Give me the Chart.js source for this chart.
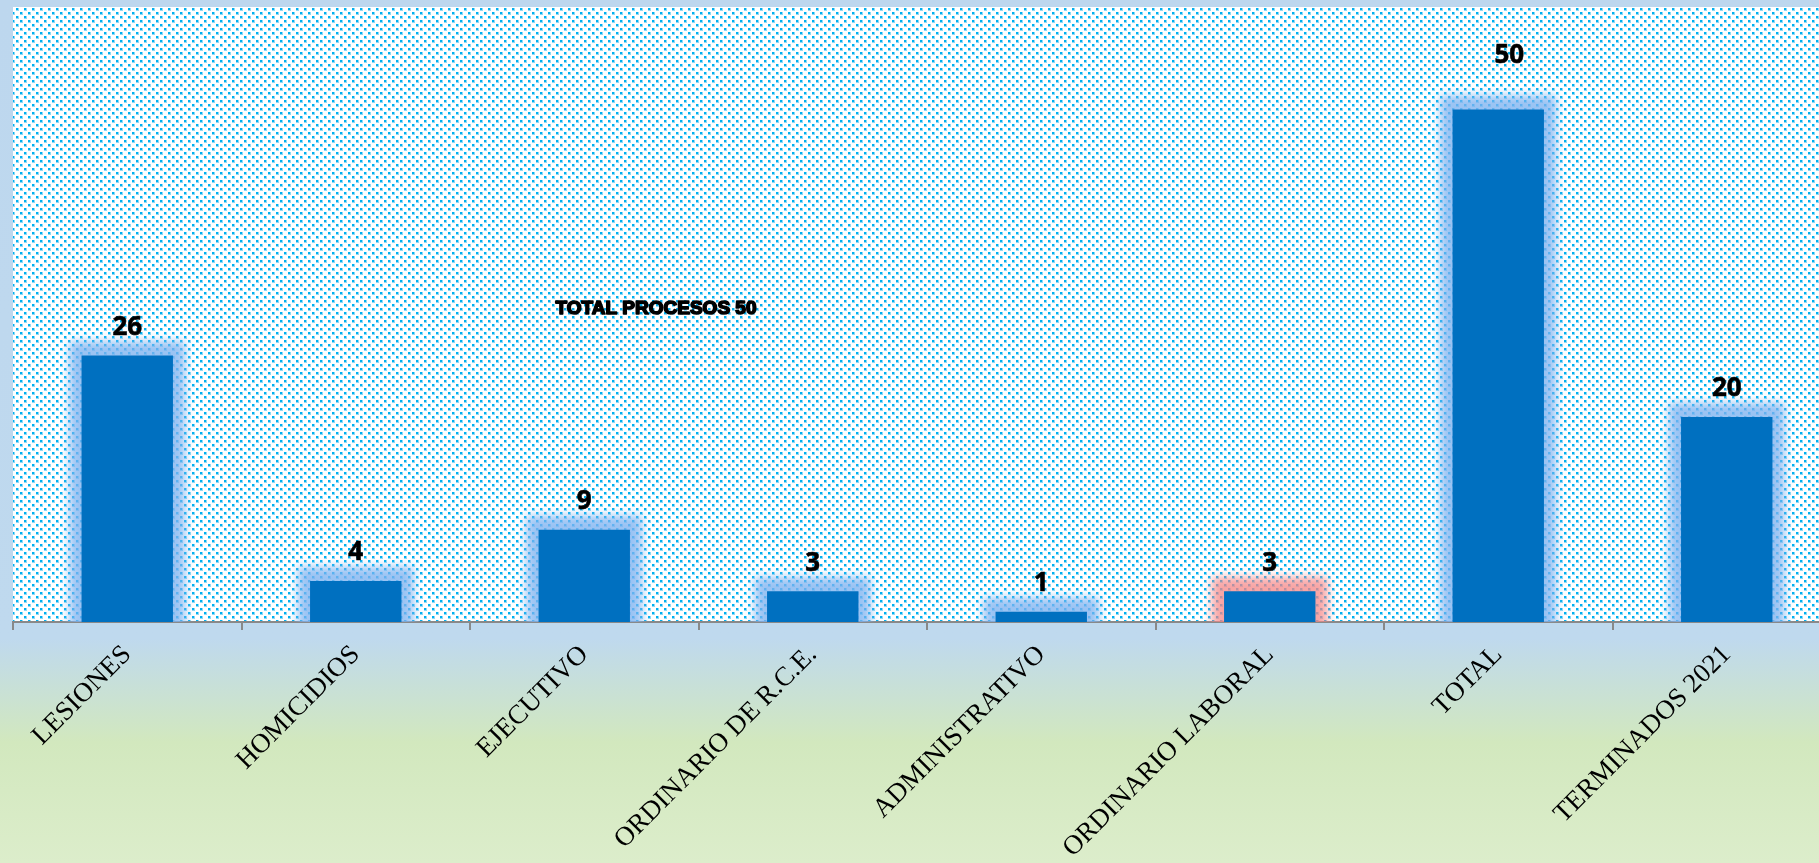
<!DOCTYPE html>
<html><head><meta charset="utf-8">
<script src="https://cdn.jsdelivr.net/npm/chart.js@4.4.1/dist/chart.umd.min.js"></script>
<style>
html,body{margin:0;padding:0;overflow:hidden;width:1819px;height:863px;background:#BFD9EE}
#wrap{position:absolute;left:0;top:0;width:1841px;height:863px}
</style></head>
<body><div id="wrap"><canvas id="c" width="1841" height="863"></canvas></div>
<script>
// ---- data ----
const categories = ['LESIONES','HOMICIDIOS','EJECUTIVO','ORDINARIO DE R.C.E.','ADMINISTRATIVO','ORDINARIO LABORAL','TOTAL','TERMINADOS 2021'];
const values = [26, 4, 9, 3, 1, 3, 50, 20];
const yMin = 0;
const yMax = 60;
const noteText = 'TOTAL PROCESOS 50';

// ---- styling helpers ----
function makePattern(ctx){
  const p = document.createElement('canvas'); p.width = 8; p.height = 8;
  const g = p.getContext('2d');
  g.fillStyle = '#ffffff'; g.fillRect(0,0,8,8);
  g.fillStyle = '#8ED9F6';
  g.fillRect(0,0,3,3); g.fillRect(4,4,3,3);
  g.fillStyle = '#00B0F0';
  g.fillRect(0,0,2,2); g.fillRect(4,4,2,2);
  return ctx.createPattern(p,'repeat');
}

const bgPlugin = {
  id:'bg',
  beforeDraw(chart){
    const {ctx, chartArea:a, width, height} = chart;
    ctx.save();
    const gr = ctx.createLinearGradient(0,0,0,height);
    gr.addColorStop(0,'#BDD7EE');
    gr.addColorStop(0.74,'#BFD9EE');
    gr.addColorStop(0.86,'#D2E8BE');
    gr.addColorStop(1,'#DCEDCB');
    ctx.fillStyle = gr; ctx.fillRect(0,0,width,height);
    ctx.fillStyle = makePattern(ctx);
    ctx.fillRect(a.left, a.top, a.right-a.left, a.bottom-a.top);
    ctx.restore();
  }
};

const glowPlugin = {
  id:'glow',
  beforeDatasetsDraw(chart, args, opts){
    const {ctx, chartArea:a} = chart;
    const meta = chart.getDatasetMeta(0);
    ctx.save();
    ctx.beginPath(); ctx.rect(a.left, a.top, a.right-a.left, a.bottom-a.top); ctx.clip();
    meta.data.forEach((el,i)=>{
      const p = el.getProps(['x','y','base','width'], true);
      const g = opts.size;
      ctx.filter = 'blur(' + opts.blur + 'px)';
      ctx.fillStyle = opts.colors[i] || opts.colors[0];
      ctx.fillRect(p.x - p.width/2 - g, p.y - g - 2, p.width + 2*g, p.base - p.y + 2*g);
    });
    ctx.restore();
  }
};

const valueLabelPlugin = {
  id:'valueLabels',
  afterDatasetsDraw(chart, args, opts){
    const {ctx} = chart;
    const meta = chart.getDatasetMeta(0);
    const ds = chart.data.datasets[0];
    ctx.save();
    ctx.font = opts.font;
    ctx.fillStyle = opts.color;
    ctx.strokeStyle = opts.color;
    ctx.lineWidth = 0.6;
    ctx.textAlign = 'center';
    ctx.textBaseline = 'middle';
    meta.data.forEach((el,i)=>{
      const sh = (opts.shift && opts.shift[i]) ? opts.shift[i] : [0, opts.defaultLift];
      ctx.fillText(String(ds.data[i]), el.x + sh[0], el.y - sh[1]);
      ctx.strokeText(String(ds.data[i]), el.x + sh[0], el.y - sh[1]);
    });
    ctx.restore();
  }
};

const notePlugin = {
  id:'note',
  afterDraw(chart, args, opts){
    const {ctx} = chart;
    ctx.save();
    ctx.font = opts.font;
    ctx.fillStyle = '#000'; ctx.strokeStyle = '#000'; ctx.lineWidth = 1.6;
    ctx.lineJoin = 'round';
    ctx.textAlign = 'center'; ctx.textBaseline = 'middle';
    ctx.fillText(opts.text, opts.x, opts.y);
    ctx.strokeText(opts.text, opts.x, opts.y);
    ctx.restore();
  }
};

const blueGlow = 'rgba(125,178,240,0.78)';
const redGlow = 'rgba(245,135,135,0.75)';

new Chart(document.getElementById('c'), {
  type:'bar',
  data:{
    labels: categories,
    datasets:[{
      data: values,
      backgroundColor:'#0070C0',
      borderWidth:0,
      categoryPercentage:1.0,
      barPercentage:0.4
    }]
  },
  options:{
    responsive:false,
    animation:false,
    devicePixelRatio:1,
    layout:{padding:{left:13, top:7, right:0, bottom:0}},
    plugins:{
      legend:{display:false},
      tooltip:{enabled:false},
      glow:{size:12, blur:5, colors:[blueGlow,blueGlow,blueGlow,blueGlow,blueGlow,redGlow,blueGlow,blueGlow]},
      valueLabels:{font:'bold 26px "Open Sans"', color:'#000', defaultLift:28, shift:{6:[11,54]}},
      note:{text:noteText, font:'bold 19px "Liberation Sans"', x:656, y:309}
    },
    scales:{
      x:{
        offset:true,
        grid:{display:true, drawOnChartArea:false, drawTicks:true, tickLength:8, color:'#898989', lineWidth:2, offset:true},
        border:{display:true, color:'#898989', width:2},
        ticks:{autoSkip:false, minRotation:45, maxRotation:45, color:'#000', padding:9,
               font:{family:'"Liberation Serif"', size:27}},
        afterFit(scale){ scale.height = 241; }
      },
      y:{display:false, min:yMin, max:yMax}
    }
  },
  plugins:[bgPlugin, glowPlugin, valueLabelPlugin, notePlugin]
});
</script>
</body></html>
